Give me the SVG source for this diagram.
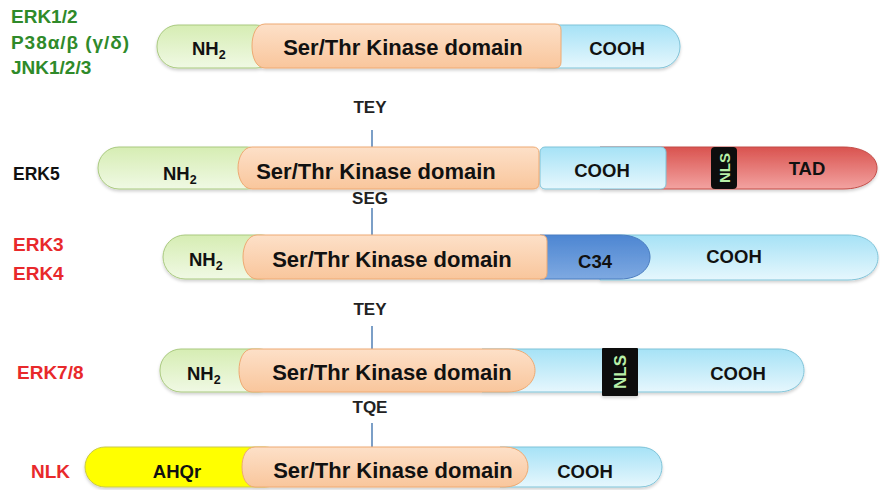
<svg xmlns="http://www.w3.org/2000/svg" width="880" height="490" viewBox="0 0 880 490">
  <defs>
    <linearGradient id="gGreen" x1="0" y1="0" x2="0" y2="1">
      <stop offset="0" stop-color="#d6edb3"/>
      <stop offset="1" stop-color="#f0f9e4"/>
    </linearGradient>
    <linearGradient id="gOrange" x1="0" y1="0" x2="0" y2="1">
      <stop offset="0" stop-color="#fde0c8"/>
      <stop offset="1" stop-color="#f9c69c"/>
    </linearGradient>
    <linearGradient id="gCyan" x1="0" y1="0" x2="0" y2="1">
      <stop offset="0" stop-color="#a6e2f6"/>
      <stop offset="1" stop-color="#e6f7fd"/>
    </linearGradient>
    <linearGradient id="gRed" x1="0" y1="0" x2="0" y2="1">
      <stop offset="0" stop-color="#d9534f"/>
      <stop offset="1" stop-color="#f3a3a1"/>
    </linearGradient>
    <linearGradient id="gBlue" x1="0" y1="0" x2="0" y2="1">
      <stop offset="0" stop-color="#4d86d2"/>
      <stop offset="1" stop-color="#7ea9e1"/>
    </linearGradient>
    <filter id="shadow" x="-5%" y="-20%" width="110%" height="150%">
      <feDropShadow dx="0" dy="2" stdDeviation="1.5" flood-color="#000" flood-opacity="0.18"/>
    </filter>
  </defs>
  <style>
    .green { fill: url(#gGreen); stroke: #a9c97f; stroke-width: 1; }
    .orange { fill: url(#gOrange); stroke: #eeaa72; stroke-width: 1; }
    .cyan { fill: url(#gCyan); stroke: #7fc3d8; stroke-width: 1; }
    .red { fill: url(#gRed); stroke: #c24c47; stroke-width: 1; }
    .blue { fill: url(#gBlue); stroke: #4a7cc0; stroke-width: 1; }
    .yellow { fill: #ffff00; stroke: #c9c94a; stroke-width: 1; }
    .nls { fill: #0d0d0d; }
    .bar { filter: url(#shadow); }
    text { font-family: "Liberation Sans", Arial, sans-serif; font-weight: bold; }
    .dom { font-size: 22px; fill: #111; text-anchor: middle; }
    .term { font-size: 18.5px; fill: #111; }
    .mid { text-anchor: middle; }
    .sub { font-size: 12.5px; }
    .nlst { font-size: 15px; fill: #b8f0a8; text-anchor: middle; }
    .motif { font-size: 17px; fill: #222; text-anchor: middle; }
    .lblg { font-size: 19px; fill: #2f8a2a; }
    .lblk { font-size: 17.5px; fill: #111; }
    .lblr { font-size: 19px; fill: #e8292b; }
    .link { stroke: #5b87b9; stroke-width: 1.6; fill: none; }
  </style>

  <!-- family labels -->
  <g id="labels">
    <text class="lblg" x="11" y="23">ERK1/2</text>
    <text class="lblg" x="11" y="49" textLength="118" lengthAdjust="spacing">P38α/β (γ/δ)</text>
    <text class="lblg" x="11" y="74">JNK1/2/3</text>
    <text class="lblk" x="13" y="180">ERK5</text>
    <text class="lblr" x="13" y="251">ERK3</text>
    <text class="lblr" x="13" y="280">ERK4</text>
    <text class="lblr" x="17" y="379">ERK7/8</text>
    <text class="lblr" x="31" y="478">NLK</text>
  </g>

  <!-- activation-loop motifs and their tick lines -->
  <g id="connectors">
    <line class="link" x1="372" y1="130" x2="372" y2="147"/>
    <line class="link" x1="372" y1="208" x2="372" y2="235"/>
    <line class="link" x1="372" y1="326" x2="372" y2="349"/>
    <line class="link" x1="372" y1="423" x2="372" y2="447"/>
  </g>
  <g id="motifs">
    <text class="motif" x="370" y="113">TEY</text>
    <text class="motif" x="370" y="204">SEG</text>
    <text class="motif" x="370" y="315">TEY</text>
    <text class="motif" x="370" y="413">TQE</text>
  </g>

  <!-- ERK1/2, p38, JNK -->
  <g id="row-erk12" class="bar">
    <rect class="green" x="157" y="25" width="120" height="43" rx="21" ry="21"/>
    <rect class="cyan" x="520" y="25" width="160" height="43" rx="21" ry="21"/>
    <path class="orange" d="M265,24 H555 Q561,24 561,30 V62 Q561,68 555,68 H265 C256,68 252,57 252,46 C252,35 256,24 265,24 Z"/>
  </g>
  <g id="row-erk12-text">
    <text class="term" x="192" y="55">NH<tspan class="sub" dy="4">2</tspan></text>
    <text class="dom" x="403" y="55">Ser/Thr Kinase domain</text>
    <text class="term mid" x="617" y="55">COOH</text>
  </g>

  <!-- ERK5 -->
  <g id="row-erk5" class="bar">
    <rect class="green" x="98" y="147" width="170" height="42" rx="21" ry="21"/>
    <path class="red" d="M600,147 H843 C865,147 877,157 877,168 C877,179 865,189 843,189 H600 Z"/>
    <rect class="cyan" x="540" y="147" width="126" height="42" rx="5" ry="5"/>
    <path class="orange" d="M252,147 H533 Q539,147 539,153 V183 Q539,189 533,189 H252 C243,189 238,178 238,168 C238,158 243,147 252,147 Z"/>
    <rect class="nls" x="711" y="147" width="26" height="42" rx="4" ry="4"/>
  </g>
  <g id="row-erk5-text">
    <text class="term" x="163" y="180">NH<tspan class="sub" dy="4">2</tspan></text>
    <text class="dom" x="376" y="179">Ser/Thr Kinase domain</text>
    <text class="term mid" x="602" y="177">COOH</text>
    <text class="nlst" transform="translate(729.5,168) rotate(-90)">NLS</text>
    <text class="term mid" x="807" y="175">TAD</text>
  </g>

  <!-- ERK3 / ERK4 -->
  <g id="row-erk34" class="bar">
    <rect class="green" x="163" y="235" width="120" height="44" rx="22" ry="22"/>
    <path class="cyan" d="M600,235 H848 C868,235 878,246 878,257.5 C878,269 868,280 848,280 H600 Z"/>
    <path class="blue" d="M540,235 H620 C640,235 650,246 650,257 C650,268 640,279 620,279 H540 Z"/>
    <path class="orange" d="M257,235 H541 Q547,235 547,241 V273 Q547,279 541,279 H257 C248,279 243,268 243,257 C243,246 248,235 257,235 Z"/>
  </g>
  <g id="row-erk34-text">
    <text class="term" x="189" y="266">NH<tspan class="sub" dy="4">2</tspan></text>
    <text class="dom" x="392" y="267">Ser/Thr Kinase domain</text>
    <text class="term mid" x="595" y="268">C34</text>
    <text class="term mid" x="734" y="263">COOH</text>
  </g>

  <!-- ERK7 / ERK8 -->
  <g id="row-erk78" class="bar">
    <rect class="green" x="160" y="349" width="120" height="43" rx="21" ry="21"/>
    <path class="cyan" d="M482,349 H778 C796,349 804,360 804,370.5 C804,381 796,392 778,392 H482 Z"/>
    <path class="orange" d="M252,349 H508 C526,349 535,360 535,370.5 C535,381 526,392 508,392 H252 C243,392 239,381 239,370.5 C239,360 243,349 252,349 Z"/>
    <rect class="nls" x="602" y="348" width="36" height="48" rx="1" ry="1"/>
  </g>
  <g id="row-erk78-text">
    <text class="term" x="187" y="380">NH<tspan class="sub" dy="4">2</tspan></text>
    <text class="dom" x="392" y="380">Ser/Thr Kinase domain</text>
    <text class="nlst" style="font-size:17px" transform="translate(626,372) rotate(-90)">NLS</text>
    <text class="term mid" x="738" y="380">COOH</text>
  </g>

  <!-- NLK -->
  <g id="row-nlk" class="bar">
    <rect class="yellow" x="85" y="447" width="200" height="40" rx="20" ry="20"/>
    <path class="cyan" d="M500,447 H640 C655,447 662,457 662,467 C662,477 655,487 640,487 H500 Z"/>
    <path class="orange" d="M255,447 H505 C520,447 528,457 528,467 C528,477 520,487 505,487 H255 C246,487 242,477 242,467 C242,457 246,447 255,447 Z"/>
  </g>
  <g id="row-nlk-text">
    <text class="term mid" x="177" y="478">AHQr</text>
    <text class="dom" x="393" y="478">Ser/Thr Kinase domain</text>
    <text class="term mid" x="585" y="478">COOH</text>
  </g>
</svg>
